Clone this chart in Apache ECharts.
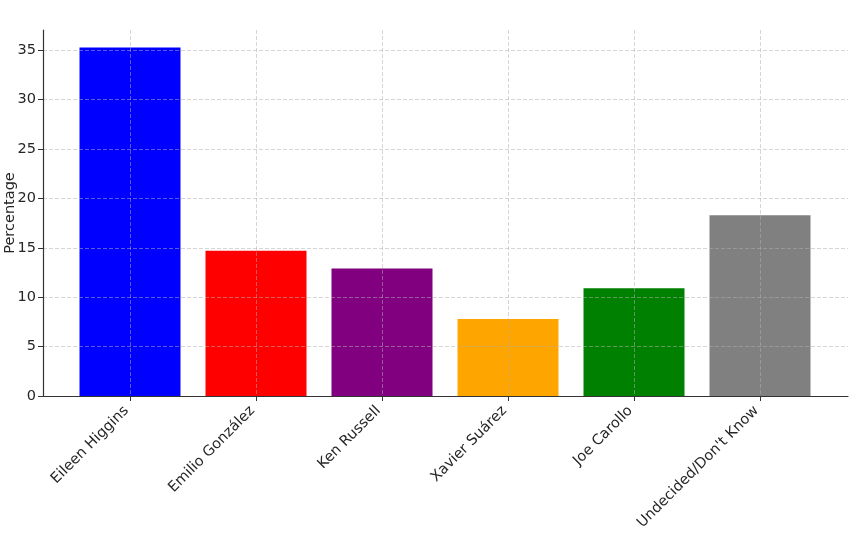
<!DOCTYPE html>
<html>
<head>
<meta charset="utf-8">
<script src="https://cdn.jsdelivr.net/npm/echarts@6/dist/echarts.min.js"></script>
<style>html,body{margin:0;padding:0;background:#fff;}#c{width:860px;height:540px;}</style>
</head>
<body>
<div id="c"></div>
<script>
const categories = ['Eileen Higgins', 'Emilio González', 'Ken Russell', 'Xavier Suárez', 'Joe Carollo', 'Undecided/Don\'t Know'];
const values = [35.3, 14.7, 12.9, 7.8, 10.9, 18.3];
const colors = ['#0000ff', '#ff0000', '#800080', '#ffa500', '#008000', '#808080'];
const yTicks = [0, 5, 10, 15, 20, 25, 30, 35];
const yAxisName = 'Percentage';

const yMax = 37.06;
const font = 'DejaVu Sans';
const gridColor = 'rgba(176,176,176,0.65)';
const axisColor = '#333';
const fs = 14.5;

const chart = echarts.init(document.getElementById('c'), null, {renderer: 'canvas'});
chart.setOption({
  animation: false,
  backgroundColor: '#fff',
  textStyle: {fontFamily: font},
  grid: [
    {left: 43, right: 12, top: 30, bottom: 144, outerBoundsMode: 'none', containLabel: false},   // spines
    {left: 130, right: 100, top: 30, bottom: 144, outerBoundsMode: 'none', containLabel: false}, // bars
    {left: 43, right: 12, top: 50.3, bottom: 144, outerBoundsMode: 'none', containLabel: false}  // y ticks + horizontal grid
  ],
  xAxis: [
    {gridIndex: 0, type: 'value', min: 0, max: 1, z: 10, axisLine: {show: true, onZero: false, lineStyle: {color: axisColor, width: 1.2}},
     axisTick: {show: false}, axisLabel: {show: false}, splitLine: {show: false}},
    {gridIndex: 1, type: 'category', data: categories, boundaryGap: false, z: 5,
     axisLine: {show: false},
     axisTick: {show: true, length: 5, inside: false, lineStyle: {color: axisColor, width: 1}},
     axisLabel: {rotate: 45, fontSize: fs, color: '#262626', fontFamily: font, margin: 9, padding: [0, 5, 0, 0], interval: 0},
     splitLine: {show: true, lineStyle: {color: gridColor, type: [4, 2], width: 0.8}}},
    {gridIndex: 2, type: 'value', min: 0, max: 1, show: false}
  ],
  yAxis: [
    {gridIndex: 0, type: 'value', min: 0, max: yMax, z: 10, axisLine: {show: true, onZero: false, lineStyle: {color: axisColor, width: 1.2}},
     axisTick: {show: false}, axisLabel: {show: false}, splitLine: {show: false},
     name: yAxisName, nameLocation: 'middle', nameGap: 25, nameRotate: 90,
     nameTextStyle: {fontSize: fs, color: '#262626', fontFamily: font}},
    {gridIndex: 1, type: 'value', min: 0, max: yMax, show: false},
    {gridIndex: 2, type: 'value', min: 0, max: yTicks[yTicks.length - 1], interval: 5, z: 5,
     axisLine: {show: false},
     axisTick: {show: true, length: 5, lineStyle: {color: axisColor, width: 1}},
     axisLabel: {fontSize: fs, color: '#262626', fontFamily: font, margin: 7},
     splitLine: {show: true, lineStyle: {color: gridColor, type: [4, 2], width: 0.8}}}
  ],
  series: [{
    type: 'bar',
    xAxisIndex: 1,
    yAxisIndex: 1,
    clip: false,
    barWidth: 101,
    data: values.map((v, i) => ({value: v, itemStyle: {color: colors[i]}}))
  }]
});
</script>
</body>
</html>
